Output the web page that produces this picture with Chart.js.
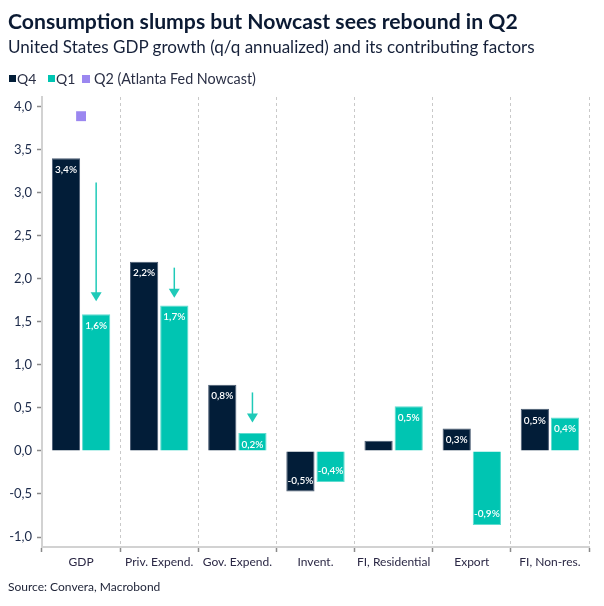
<!DOCTYPE html>
<html>
<head>
<meta charset="utf-8">
<script src="https://cdn.jsdelivr.net/npm/chart.js@4/dist/chart.umd.min.js"></script>
<style>
  html, body { margin: 0; padding: 0; background: #fff; }
  #wrap { position: relative; width: 604px; height: 606px; overflow: hidden; font-family: Lato, "Open Sans", sans-serif; }
  #title { position: absolute; left: 8px; top: 8px; font-weight: 700; font-size: 20px; color: #0b1a33; white-space: nowrap; }
  #subtitle { position: absolute; left: 8px; top: 36px; font-size: 17px; color: #16213a; white-space: nowrap; }
  .lg { position: absolute; top: 70px; font-size: 14px; color: #2a2f45; white-space: nowrap; }
  .lb { position: absolute; top: 75px; width: 7px; height: 7px; }
  #source { position: absolute; left: 8px; top: 579px; font-size: 12px; color: #1d2236; white-space: nowrap; }
  canvas { position: absolute; left: 0; top: 0; }
</style>
</head>
<body>
<div id="wrap">
  <canvas id="c" width="604" height="606"></canvas>
  <div id="title">Consumption slumps but Nowcast sees rebound in Q2</div>
  <div id="subtitle">United States GDP growth (q/q annualized) and its contributing factors</div>
  <div class="lb" style="left:9px;background:#021d38"></div>
  <div class="lg" id="lg1" style="left:17px">Q4</div>
  <div class="lb" style="left:48px;background:#00c5b2"></div>
  <div class="lg" id="lg2" style="left:56px">Q1</div>
  <div class="lb" style="left:82px;background:#9b87f0;width:8px;height:8px;top:74.5px"></div>
  <div class="lg" id="lg3" style="left:94px">Q2 (Atlanta Fed Nowcast)</div>
  <div id="source">Source: Convera, Macrobond</div>
</div>
<script>
// ---- data ----
const categories = ["GDP", "Priv. Expend.", "Gov. Expend.", "Invent.", "FI, Residential", "Export", "FI, Non-res."];
const q4Values = [3.4, 2.2, 0.77, -0.47, 0.12, 0.26, 0.49];
const q1Values = [1.59, 1.69, 0.21, -0.36, 0.52, -0.86, 0.39];
const q2Nowcast = [3.89, null, null, null, null, null, null];
// arrows: category index, start value, tip value
const arrowCats = [0, 1, 2];
const arrowFrom = [3.12, 2.13, 0.68];
const arrowTo = [1.74, 1.78, 0.33];
const yTickMin = -1.116;
const yTickMax = 4.113;

// fit title / subtitle / legend widths
function fit(id, target) {
  const el = document.getElementById(id);
  const fs = parseFloat(getComputedStyle(el).fontSize);
  const w = el.getBoundingClientRect().width;
  el.style.fontSize = (fs * target / w).toFixed(2) + 'px';
}
fit('title', 510);
fit('subtitle', 527);
fit('lg3', 162);

const fmt = v => v.toFixed(1).replace('.', ',');

const labelPlugin = {
  id: 'barLabels',
  afterDatasetsDraw(chart) {
    const ctx = chart.ctx;
    ctx.save();
    ctx.font = '600 10px Lato, "Open Sans", sans-serif';
    ctx.fillStyle = '#ffffff';
    ctx.textAlign = 'center';
    ctx.textBaseline = 'middle';
    [0, 1].forEach(di => {
      const meta = chart.getDatasetMeta(di);
      const vals = chart.data.datasets[di].data;
      meta.data.forEach((el, i) => {
        const v = vals[i];
        if (Math.abs(v) < 0.2) return;
        const y = v >= 0 ? el.y + 11.5 : el.y - 11;
        ctx.fillText(fmt(v) + '%', el.x, y);
      });
    });
    // arrows
    const ys = chart.scales.y;
    const meta1 = chart.getDatasetMeta(1);
    ctx.strokeStyle = '#1fcab8';
    ctx.fillStyle = '#1fcab8';
    ctx.lineWidth = 1.5;
    arrowCats.forEach((ci, k) => {
      const x = meta1.data[ci].x;
      const y1 = ys.getPixelForValue(arrowFrom[k]);
      const y2 = ys.getPixelForValue(arrowTo[k]);
      ctx.beginPath();
      ctx.moveTo(x, y1);
      ctx.lineTo(x, y2 - 8);
      ctx.stroke();
      ctx.beginPath();
      ctx.moveTo(x - 5.5, y2 - 9);
      ctx.lineTo(x + 5.5, y2 - 9);
      ctx.lineTo(x, y2);
      ctx.closePath();
      ctx.fill();
    });
    ctx.restore();
  }
};

new Chart(document.getElementById('c'), {
  type: 'bar',
  data: {
    labels: categories,
    datasets: [
      { label: 'Q4', data: q4Values, backgroundColor: '#021d38', borderColor: '#4a5b72', borderWidth: 1,
        categoryPercentage: 0.772, barPercentage: 0.936, order: 2 },
      { label: 'Q1', data: q1Values, backgroundColor: '#00c5b2', borderColor: '#5fdccf', borderWidth: 1,
        categoryPercentage: 0.772, barPercentage: 0.936, order: 2 },
      { type: 'line', label: 'Q2 (Atlanta Fed Nowcast)', data: q2Nowcast, showLine: false,
        pointStyle: 'rect', pointRadius: 7, pointHoverRadius: 7, borderWidth: 0,
        backgroundColor: '#9b87f0', borderColor: '#9b87f0', order: 1 }
    ]
  },
  options: {
    responsive: false,
    animation: false,
    events: [],
    layout: { padding: { top: 97, right: 15, left: 0, bottom: 0 } },
    plugins: { legend: { display: false }, tooltip: { enabled: false } },
    scales: {
      x: {
        offset: true,
        grid: { display: true, offset: true, drawOnChartArea: true, drawTicks: true, color: '#c9c9c9',
          lineWidth: 1, tickLength: 5, tickColor: '#8a8a8a', tickWidth: 1.5 },
        border: { display: true, color: '#d2d2d2', width: 2, dash: [3, 3] },
        ticks: { color: '#2b2845', font: { family: 'Lato, "Open Sans", sans-serif', size: 12 }, padding: 3, maxRotation: 0, autoSkip: false },
        afterFit(s) { s.height = 59; }
      },
      y: {
        min: yTickMin, max: yTickMax,
        grid: { drawOnChartArea: false, drawTicks: true, tickLength: 5, tickColor: '#8a8a8a', tickWidth: 1.5 },
        border: { display: true, color: '#d2d2d2', width: 2 },
        ticks: { stepSize: 0.5, includeBounds: false, color: '#1c2a4a', padding: 5,
          font: { family: 'Lato, "Open Sans", sans-serif', size: 13 },
          callback: v => fmt(v) },
        afterFit(s) { s.width = 42; }
      }
    }
  },
  plugins: [labelPlugin]
});
</script>
</body>
</html>
